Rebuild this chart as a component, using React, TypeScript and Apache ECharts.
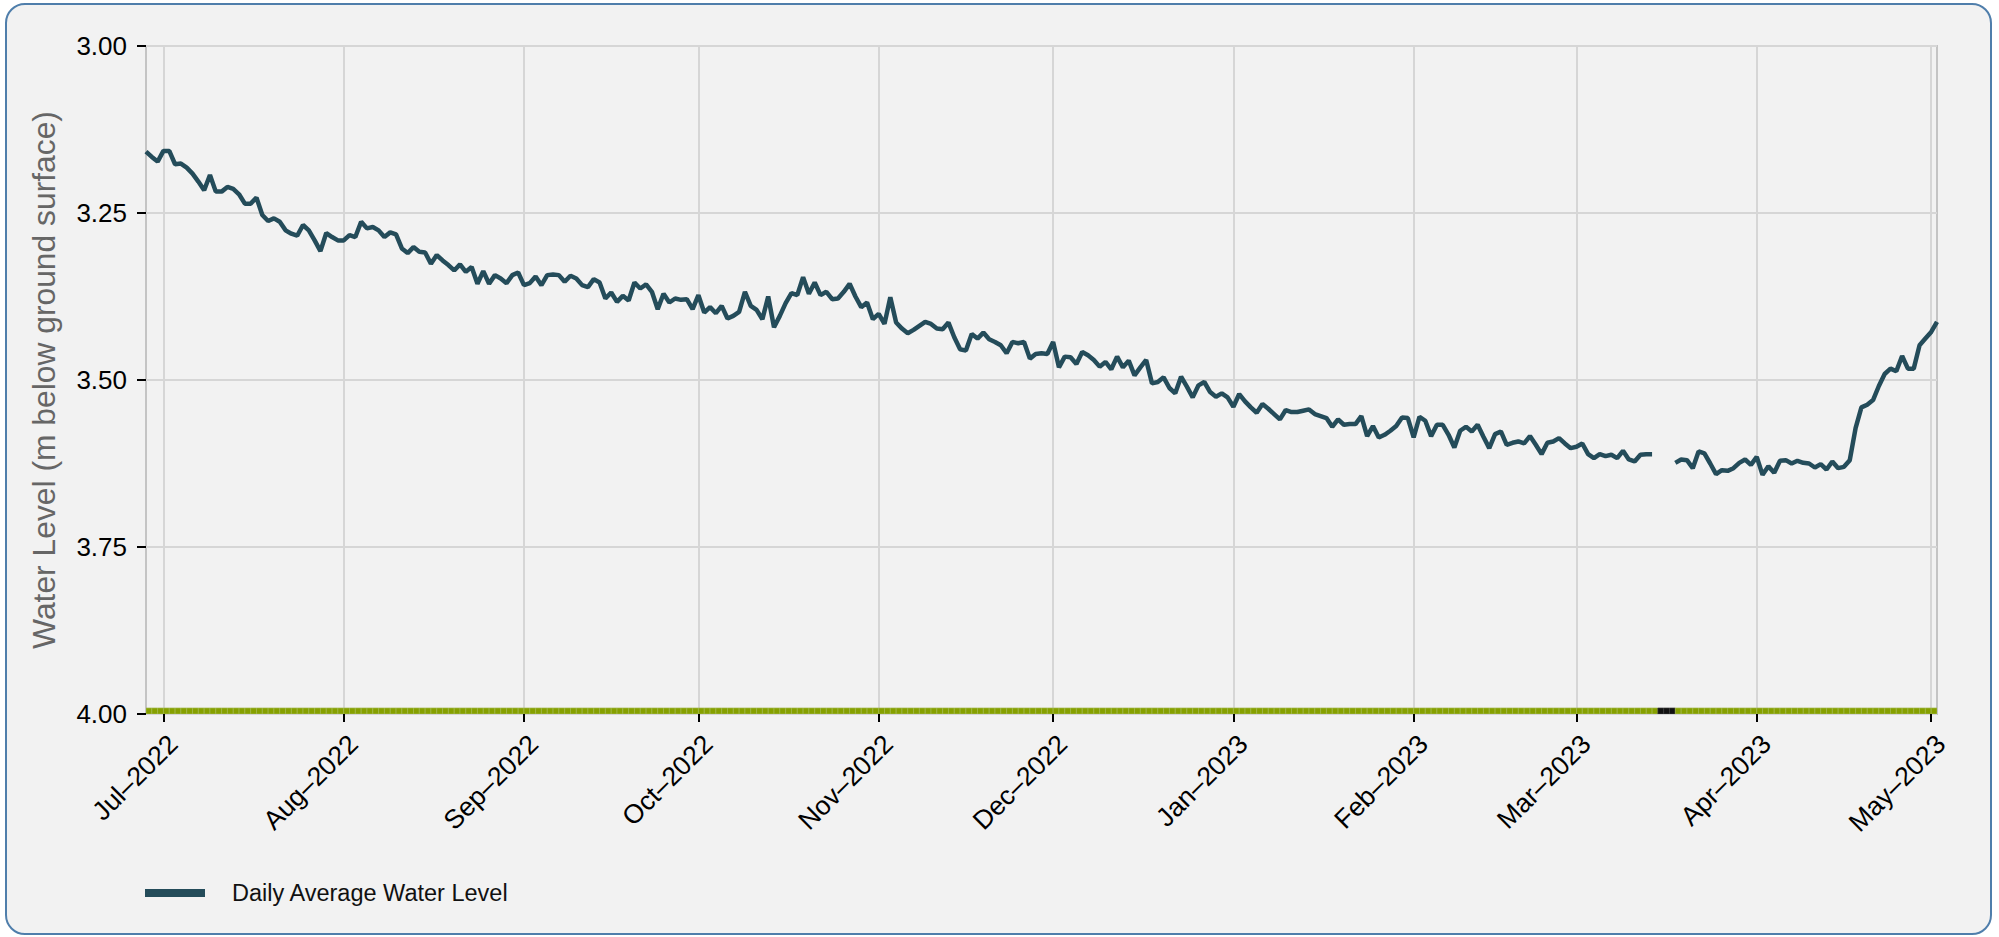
import React, { useEffect, useRef } from "react";
import * as echarts from "echarts";

// ---- Data (daily average water level, m below ground surface) ----
const firstDay = "2022-06-28";
const axisStart = "2022-06-28";
const axisEnd = "2023-05-02";

const jun2022 = [3.158, 3.166, 3.173];
const jul2022 = [
  3.157, 3.157, 3.177, 3.176, 3.182, 3.191, 3.203, 3.216, 3.193, 3.218,
  3.218, 3.211, 3.214, 3.222, 3.236, 3.236, 3.227, 3.253, 3.262, 3.258,
  3.263, 3.276, 3.281, 3.284, 3.268, 3.276, 3.291, 3.307, 3.28, 3.286,
  3.291,
];
const aug2022 = [
  3.291, 3.283, 3.286, 3.263, 3.273, 3.271, 3.276, 3.286, 3.279, 3.282,
  3.303, 3.31, 3.301, 3.308, 3.309, 3.326, 3.313, 3.321, 3.328, 3.336,
  3.327, 3.338, 3.331, 3.356, 3.337, 3.356, 3.343, 3.348, 3.355, 3.343,
  3.339,
];
const sep2022 = [
  3.358, 3.355, 3.345, 3.358, 3.343, 3.342, 3.343, 3.353, 3.344, 3.348,
  3.358, 3.361, 3.349, 3.354, 3.378, 3.369, 3.383, 3.374, 3.381, 3.354,
  3.363, 3.357, 3.368, 3.394, 3.371, 3.384, 3.378, 3.38, 3.379, 3.394,
];
const oct2022 = [
  3.373, 3.399, 3.391, 3.4, 3.389, 3.408, 3.404, 3.398, 3.368, 3.389,
  3.395, 3.409, 3.375, 3.421, 3.404, 3.385, 3.37, 3.373, 3.346, 3.371,
  3.354, 3.373, 3.368, 3.379, 3.378, 3.368, 3.356, 3.375, 3.391, 3.384,
  3.409,
];
const nov2022 = [
  3.401, 3.416, 3.376, 3.414, 3.423, 3.43, 3.425, 3.419, 3.413, 3.416,
  3.423, 3.424, 3.414, 3.436, 3.454, 3.456, 3.431, 3.438, 3.429, 3.439,
  3.443, 3.448, 3.46, 3.443, 3.445, 3.443, 3.468, 3.461, 3.46, 3.461,
];
const dec2022 = [
  3.443, 3.481, 3.465, 3.466, 3.476, 3.458, 3.463, 3.47, 3.48, 3.473,
  3.484, 3.465, 3.481, 3.471, 3.493, 3.481, 3.47, 3.505, 3.503, 3.496,
  3.512, 3.52, 3.495, 3.51, 3.526, 3.508, 3.503, 3.518, 3.525, 3.52,
  3.526,
];
const jan2023 = [
  3.54, 3.521, 3.532, 3.541, 3.549, 3.536, 3.543, 3.551, 3.559, 3.545,
  3.548, 3.548, 3.546, 3.544, 3.551, 3.554, 3.557, 3.57, 3.559, 3.567,
  3.566, 3.566, 3.554, 3.584, 3.569, 3.586, 3.582, 3.576, 3.569, 3.556,
  3.557,
];
const feb2023 = [
  3.586, 3.555, 3.561, 3.584, 3.567, 3.567, 3.582, 3.601, 3.576, 3.57,
  3.577, 3.567, 3.585, 3.602, 3.581, 3.577, 3.597, 3.594, 3.592, 3.595,
  3.584, 3.597, 3.611, 3.594, 3.592, 3.587, 3.595, 3.602,
];
const mar2023 = [
  3.6, 3.595, 3.611, 3.617, 3.611, 3.614, 3.612, 3.617, 3.606, 3.619,
  3.622, 3.612, 3.611, 3.611, null, null, null, 3.624, 3.619, 3.62,
  3.632, 3.607, 3.61, 3.625, 3.641, 3.635, 3.636, 3.632, 3.624, 3.619,
  3.627,
];
const apr2023 = [
  3.615, 3.642, 3.629, 3.639, 3.621, 3.62, 3.625, 3.621, 3.624, 3.625,
  3.631, 3.626, 3.634, 3.622, 3.632, 3.63, 3.62, 3.572, 3.541, 3.537,
  3.53, 3.509, 3.491, 3.483, 3.487, 3.464, 3.483, 3.483, 3.448, 3.438,
];
const may2023 = [3.428, 3.413];

const waterLevel: (number | null)[] = [
  ...jun2022, ...jul2022, ...aug2022, ...sep2022, ...oct2022, ...nov2022,
  ...dec2022, ...jan2023, ...feb2023, ...mar2023, ...apr2023, ...may2023,
];

const monthTicks = [
  "2022-07-01", "2022-08-01", "2022-09-01", "2022-10-01", "2022-11-01",
  "2022-12-01", "2023-01-01", "2023-02-01", "2023-03-01", "2023-04-01",
  "2023-05-01",
];
const monthNames = ["Jan", "Feb", "Mar", "Apr", "May", "Jun", "Jul", "Aug", "Sep", "Oct", "Nov", "Dec"];

const yTicks = { min: 3, max: 4, interval: 0.25 };
const seriesName = "Daily Average Water Level";
const yTitle = "Water Level (m below ground surface)";

// ---- helpers ----
const DAY = 86400000;
const parseUTC = (s: string) => {
  const [y, m, d] = s.split("-").map(Number);
  return Date.UTC(y, m - 1, d);
};
const dayAt = (start: string, i: number) => parseUTC(start) + i * DAY;

const FONT = "'Liberation Sans', Arial, Helvetica, sans-serif";

export default function App() {
  const ref = useRef<HTMLDivElement>(null);

  useEffect(() => {
    if (!ref.current) return;
    const chart = echarts.init(ref.current, null, { renderer: "svg" });

    const xMin = parseUTC(axisStart);
    const xMax = parseUTC(axisEnd);
    const lineData = waterLevel.map((v, i) => [dayAt(firstDay, i), v]);
    const stripData = waterLevel
      .map((v, i) => [dayAt(firstDay, i), yTicks.max, v == null ? 1 : 0])
      .filter((p) => (p[0] as number) < xMax);
    const tickValues = monthTicks.map(parseUTC);

    try {
      chart.setOption({
        animation: false,
        backgroundColor: "transparent",
        textStyle: { fontFamily: FONT },
        grid: {
          left: 146,
          right: 62,
          top: 46,
          bottom: 223,
          show: true,
          borderColor: "#c4c4c4",
          borderWidth: 2,
          backgroundColor: "transparent",
        },
        legend: {
          show: true,
          data: [seriesName],
          left: 145,
          top: 881,
          padding: 0,
          icon: "rect",
          itemWidth: 60,
          itemHeight: 8,
          textStyle: { fontSize: 23.5, color: "#111", fontFamily: FONT, padding: [0, 0, 0, 22] },
        },
        xAxis: {
          type: "value",
          min: xMin,
          max: xMax,
          axisLine: { show: false },
          axisTick: {
            show: true,
            customValues: tickValues,
            length: 8,
            lineStyle: { color: "#000", width: 2 },
          },
          axisLabel: {
            customValues: tickValues,
            rotate: 45,
            fontSize: 26.5,
            color: "#000",
            margin: 16,
            verticalAlign: "top",
            fontFamily: FONT,
            formatter: (val: number) => {
              const d = new Date(val);
              return monthNames[d.getUTCMonth()] + "\u2013" + d.getUTCFullYear();
            },
          },
          splitLine: { show: true, lineStyle: { color: "#d6d6d6", width: 2 } },
        },
        yAxis: {
          type: "value",
          inverse: true,
          min: yTicks.min,
          max: yTicks.max,
          interval: yTicks.interval,
          name: yTitle,
          nameLocation: "middle",
          nameGap: 86,
          nameTextStyle: { fontSize: 31.8, color: "#666", fontFamily: FONT },
          axisLine: { show: false },
          axisTick: { show: true, length: 9, lineStyle: { color: "#000", width: 2 } },
          axisLabel: {
            fontSize: 26,
            color: "#000",
            margin: 19,
            fontFamily: FONT,
            formatter: (v: number) => v.toFixed(2),
          },
          splitLine: { show: true, lineStyle: { color: "#d6d6d6", width: 2 } },
        },
        series: [
          {
            name: "Data availability",
            type: "custom",
            clip: true,
            silent: true,
            z: 3,
            data: stripData,
            encode: { x: 0, y: 1 },
            renderItem: (_params: any, api: any) => {
              const t = api.value(0);
              const missing = api.value(2) === 1;
              const a = api.coord([t, yTicks.max]);
              const b = api.coord([t + DAY, yTicks.max]);
              return {
                type: "rect",
                shape: { x: a[0], y: a[1] - 6, width: b[0] - a[0], height: 6 },
                style: {
                  fill: missing ? "#111111" : "#86a000",
                  stroke: missing ? "#3a3a3a" : "#a2b84c",
                  lineWidth: 0.7,
                },
              };
            },
          },
          {
            name: seriesName,
            type: "line",
            data: lineData,
            showSymbol: false,
            connectNulls: false,
            z: 4,
            lineStyle: { color: "#244c5a", width: 4.5 },
            itemStyle: { color: "#244c5a" },
          },
        ],
      });
    } catch (e) {
      console.error(e);
    }

    return () => chart.dispose();
  }, []);

  return (
    <div style={{ position: "fixed", left: 0, top: 0, width: 1999, height: 937, background: "#ffffff" }}>
      <div
        style={{
          position: "absolute",
          left: 5,
          top: 3,
          width: 1987,
          height: 932,
          boxSizing: "border-box",
          border: "2.5px solid #4f7eab",
          borderRadius: 20,
          background: "#f2f2f2",
        }}
      />
      <div ref={ref} style={{ position: "absolute", left: 0, top: 0, width: 1999, height: 937 }} />
    </div>
  );
}
